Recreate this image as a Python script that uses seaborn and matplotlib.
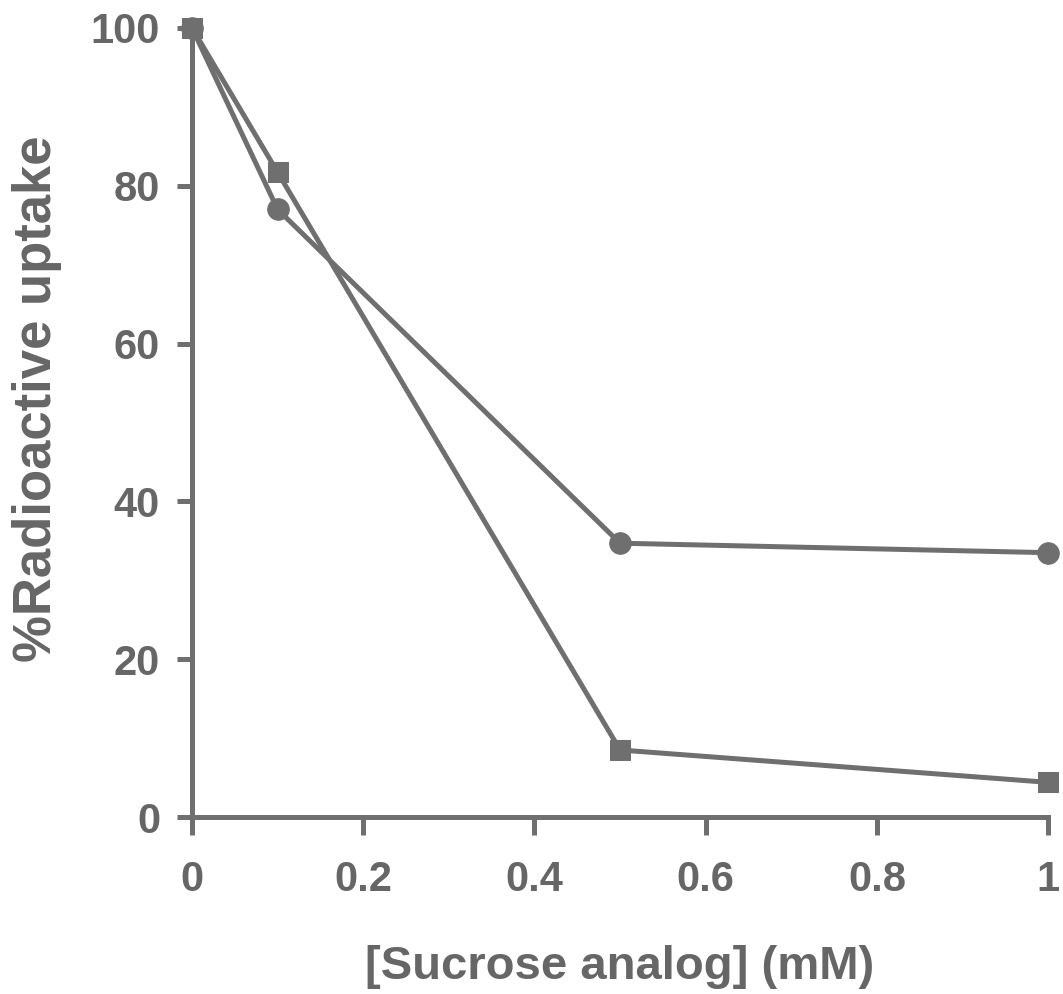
import matplotlib
matplotlib.use("Agg")
import matplotlib.pyplot as plt
import seaborn as sns
import pandas as pd

conc = [0, 0.1, 0.5, 1.0]
circle_vals = [100, 77, 34.7, 33.5]
square_vals = [100, 81.7, 8.5, 4.4]
xticks = [0, 0.2, 0.4, 0.6, 0.8, 1]
xtick_labels = ["0", "0.2", "0.4", "0.6", "0.8", "1"]
yticks = [0, 20, 40, 60, 80, 100]

sns.set_style("ticks")
plt.rcParams['font.family'] = ['Liberation Sans', 'DejaVu Sans']

gray = "#6f6f6f"
txt = "#666666"

fig = plt.figure(figsize=(10.63, 9.94), dpi=100)
ax = fig.add_axes([0.1806, 0.178, 0.8054, 0.794])

df_c = pd.DataFrame({"x": conc, "y": circle_vals})
df_s = pd.DataFrame({"x": conc, "y": square_vals})
sns.lineplot(data=df_c, x="x", y="y", ax=ax, color=gray, linewidth=3.6,
             marker="o", markersize=15.5, markeredgecolor=gray, clip_on=False)
sns.lineplot(data=df_s, x="x", y="y", ax=ax, color=gray, linewidth=3.6,
             marker="s", markersize=14, markeredgecolor=gray, clip_on=False)

ax.set_xlim(0, 1)
ax.set_ylim(0, 100)
ax.set_xticks(xticks)
ax.set_xticklabels(xtick_labels)
ax.set_yticks(yticks)
for s in ["top", "right"]:
    ax.spines[s].set_visible(False)
for s in ["left", "bottom"]:
    ax.spines[s].set_linewidth(3.6)
    ax.spines[s].set_color(gray)
ax.tick_params(axis="both", direction="out", width=3.6, color=gray,
               labelsize=30, labelcolor=txt)
ax.tick_params(axis="x", length=13, pad=18)
ax.tick_params(axis="y", length=11, pad=12)
for lab in ax.get_xticklabels() + ax.get_yticklabels():
    lab.set_fontweight("bold")

ax.set_xlabel("[Sucrose analog] (mM)", fontsize=34, fontweight="bold", color=txt, labelpad=32)
ax.set_ylabel("%Radioactive uptake", fontsize=38, fontweight="bold", color=txt)
ax.yaxis.set_label_coords(-0.152, 0.53)

fig.savefig("out.png", dpi=100)
